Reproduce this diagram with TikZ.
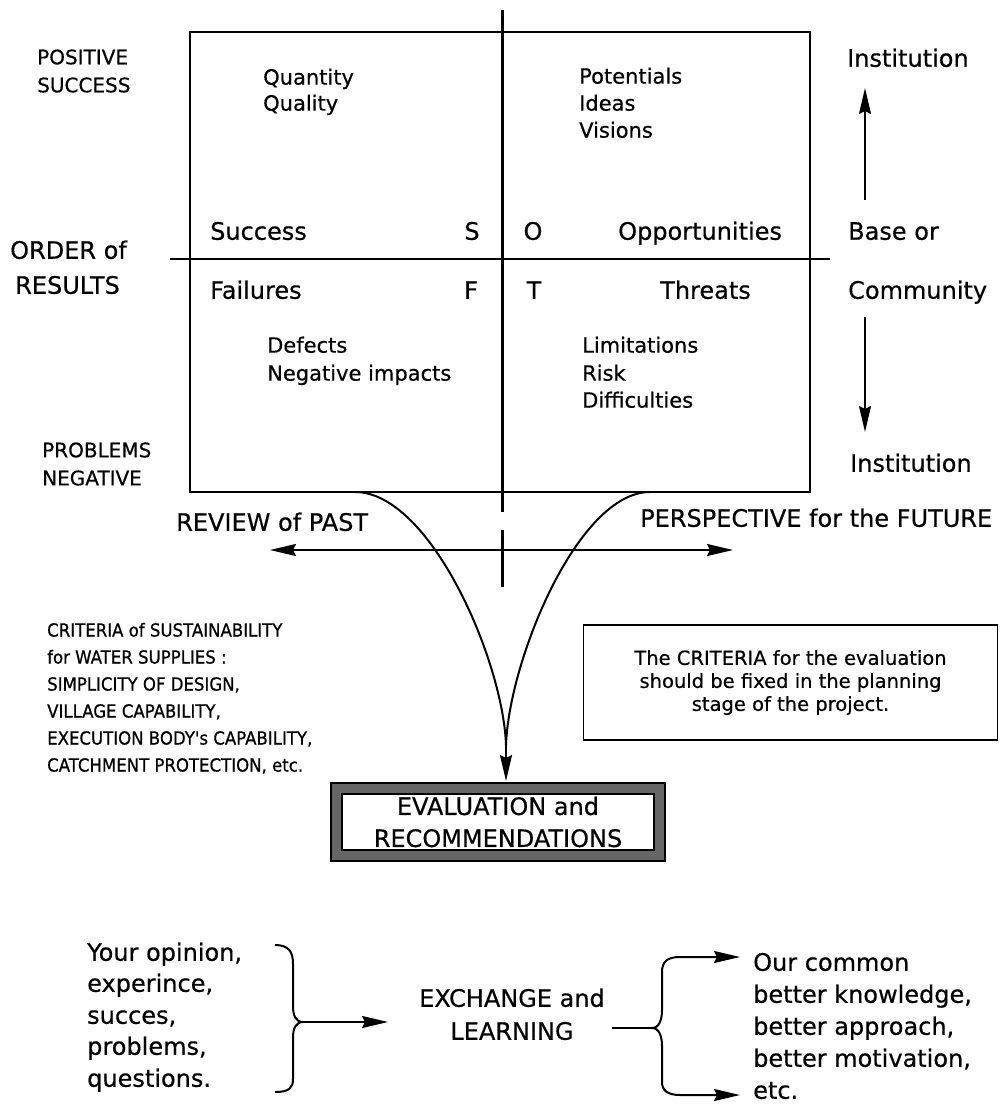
\documentclass[tikz,border=0pt]{standalone}
\usepackage{fontspec}
\setmainfont[FakeBold=0.5]{DejaVu Sans}
\newfontfamily\narrowsans[FakeStretch=0.92,FakeBold=0.7]{DejaVu Sans}
\usetikzlibrary{arrows.meta}

\begin{document}
\begin{tikzpicture}[x=1pt,y=-1pt,
  big/.style={font=\fontsize{24}{28}\selectfont, inner sep=0pt, text height=17.5pt, text depth=0pt},
  mid/.style={font=\fontsize{21}{25}\selectfont, inner sep=0pt, text height=15.3pt, text depth=0pt},
  caps/.style={font=\fontsize{20}{24}\selectfont, inner sep=0pt, text height=14.6pt, text depth=0pt},
  note/.style={font=\narrowsans\fontsize{18}{27}\selectfont, inner sep=0pt, text height=13.1pt, text depth=0pt},
  frame/.style={line width=2pt},
  tip/.style={line width=2pt, -{Stealth[length=26pt,width=12pt,inset=3pt]}},
  twotip/.style={line width=2pt, {Stealth[length=26pt,width=12pt,inset=3pt]}-{Stealth[length=26pt,width=12pt,inset=3pt]}},
  flow/.style={line width=2pt},
  evalbox/.style={draw=black, line width=1.8pt, double=black!60, double distance=9pt,
    fill=white, minimum width=323pt, minimum height=67pt, align=center,
    font=\fontsize{24}{32}\selectfont, inner sep=0pt},
  critbox/.style={draw=black, line width=1.8pt, minimum width=414pt, minimum height=115pt,
    align=center, font=\fontsize{19.5}{23}\selectfont, inner sep=0pt}
]
\useasboundingbox (0,0) rectangle (999,1107);

% SWOT square with its two axes
\draw[frame] (190,32) rectangle (810,492);
\draw[line width=3pt] (502,10) -- (502,512);
\draw[line width=3pt] (502,530) -- (502,587);
\draw[line width=2.5pt] (170,259) -- (830,259);

% left margin labels
\node[caps, anchor=west] (pos1) at (37,57) {POSITIVE};
\node[caps, anchor=west] (pos2) at (37,85) {SUCCESS};
\node[big, anchor=west] (ord1) at (10,250) {ORDER of};
\node[big, anchor=west] (ord2) at (15,285) {RESULTS};
\node[caps, anchor=west] (neg1) at (42,450) {PROBLEMS};
\node[caps, anchor=west] (neg2) at (42,478) {NEGATIVE};

% quadrant contents
\node[mid, anchor=west] (qa1) at (263,77) {Quantity};
\node[mid, anchor=west] (qa2) at (263,103) {Quality};
\node[mid, anchor=west] (po1) at (579,76) {Potentials};
\node[mid, anchor=west] (po2) at (579,103) {Ideas};
\node[mid, anchor=west] (po3) at (579,130) {Visions};
\node[mid, anchor=west] (de1) at (267,345) {Defects};
\node[mid, anchor=west] (de2) at (267,373) {Negative impacts};
\node[mid, anchor=west] (li1) at (582,345) {Limitations};
\node[mid, anchor=west] (li2) at (582,373) {Risk};
\node[mid, anchor=west] (li3) at (582,400) {Difficulties};

\node[big, anchor=west] (succ) at (210,231) {Success};
\node[big] (S) at (472,231) {S};
\node[big] (O) at (533,231) {O};
\node[big, anchor=west] (opp) at (618,231) {Opportunities};
\node[big, anchor=west] (fail) at (210,290) {Failures};
\node[big] (F) at (471,290) {F};
\node[big] (T) at (534,290) {T};
\node[big, anchor=west] (thr) at (660,290) {Threats};

% right margin: level scale
\node[big, anchor=west] (inst1) at (847,58) {Institution};
\node[big, anchor=west] (base1) at (848,231) {Base or};
\node[big, anchor=west] (base2) at (848,290) {Community};
\node[big, anchor=west] (inst2) at (850,463) {Institution};
\coordinate (up0) at (865,200);
\coordinate (up1) at (865,88);
\coordinate (dn0) at (865,317);
\coordinate (dn1) at (865,432);
\draw[tip] (up0) -- (up1);
\draw[tip] (dn0) -- (dn1);

% time axis
\node[big, anchor=west] (past) at (176,522) {REVIEW of PAST};
\node[big, anchor=west] (fut) at (640,518) {PERSPECTIVE for the FUTURE};
\coordinate (tl) at (270,550);
\coordinate (tr) at (733,550);
\draw[twotip] (tl) -- (tr);

% criteria
\node[note, anchor=west] (cr1) at (47,630) {CRITERIA of SUSTAINABILITY};
\node[note, anchor=west] (cr2) at (47,657) {for WATER SUPPLIES :};
\node[note, anchor=west] (cr3) at (47,684) {SIMPLICITY OF DESIGN,};
\node[note, anchor=west] (cr4) at (47,711) {VILLAGE CAPABILITY,};
\node[note, anchor=west] (cr5) at (47,738) {EXECUTION BODY's CAPABILITY,};
\node[note, anchor=west] (cr6) at (47,765) {CATCHMENT PROTECTION, etc.};

\node[critbox] (crit) at (790.5,682.5) {The CRITERIA for the evaluation\\should be fixed in the planning\\stage of the project.};

% evaluation
\node[evalbox] (eval) at (498,822) {EVALUATION and\\RECOMMENDATIONS};

% funnel from the square into the evaluation
\coordinate (lc) at (355,492);
\coordinate (rc) at (650,492);
\coordinate (join) at (506,745);
\coordinate (meet) at (506,781);
\draw[flow] (lc) .. controls (430,492) and (503,660) .. (join);
\draw[flow] (rc) .. controls (578,492) and (509,660) .. (join);
\draw[tip] (join) -- (meet);

% exchange and learning
\node[big, anchor=west] (yo1) at (87,952) {Your opinion,};
\node[big, anchor=west] (yo2) at (87,983) {experince,};
\node[big, anchor=west] (yo3) at (87,1015) {succes,};
\node[big, anchor=west] (yo4) at (87,1046) {problems,};
\node[big, anchor=west] (yo5) at (87,1078) {questions.};

\node[big, align=center, font=\fontsize{24}{33}\selectfont, text height=17.5pt] (exch) at (512,1031) {EXCHANGE and\\LEARNING};

\node[big, anchor=west] (oc1) at (753,962) {Our common};
\node[big, anchor=west] (oc2) at (753,994) {better knowledge,};
\node[big, anchor=west] (oc3) at (753,1026) {better approach,};
\node[big, anchor=west] (oc4) at (753,1058) {better motivation,};
\node[big, anchor=west] (oc5) at (753,1090) {etc.};

% left brace gathering the inputs
\coordinate (lb) at (303,1022);
\coordinate (lbtip) at (388,1022);
\draw[flow] (275,945) .. controls (289,945) and (293,952) .. (293,964)
  -- (293,1006) .. controls (293,1016) and (296,1022) .. (lb)
  .. controls (296,1022) and (293,1028) .. (293,1038)
  -- (293,1079) .. controls (293,1088) and (289,1092) .. (275,1092);
\draw[tip] (lb) -- (lbtip);

% right brace spreading the results
\coordinate (rb) at (652,1028);
\coordinate (rbtop) at (740,957);
\coordinate (rbbot) at (740,1095);
\draw[flow] (612,1028) -- (rb);
\draw[tip] (rb) .. controls (659,1028) and (662,1020) .. (662,1010)
  -- (662,972) .. controls (662,962) and (667,957) .. (680,957) -- (rbtop);
\draw[tip] (rb) .. controls (659,1028) and (662,1036) .. (662,1046)
  -- (662,1082) .. controls (662,1090) and (667,1095) .. (680,1095) -- (rbbot);

\end{tikzpicture}
\end{document}
